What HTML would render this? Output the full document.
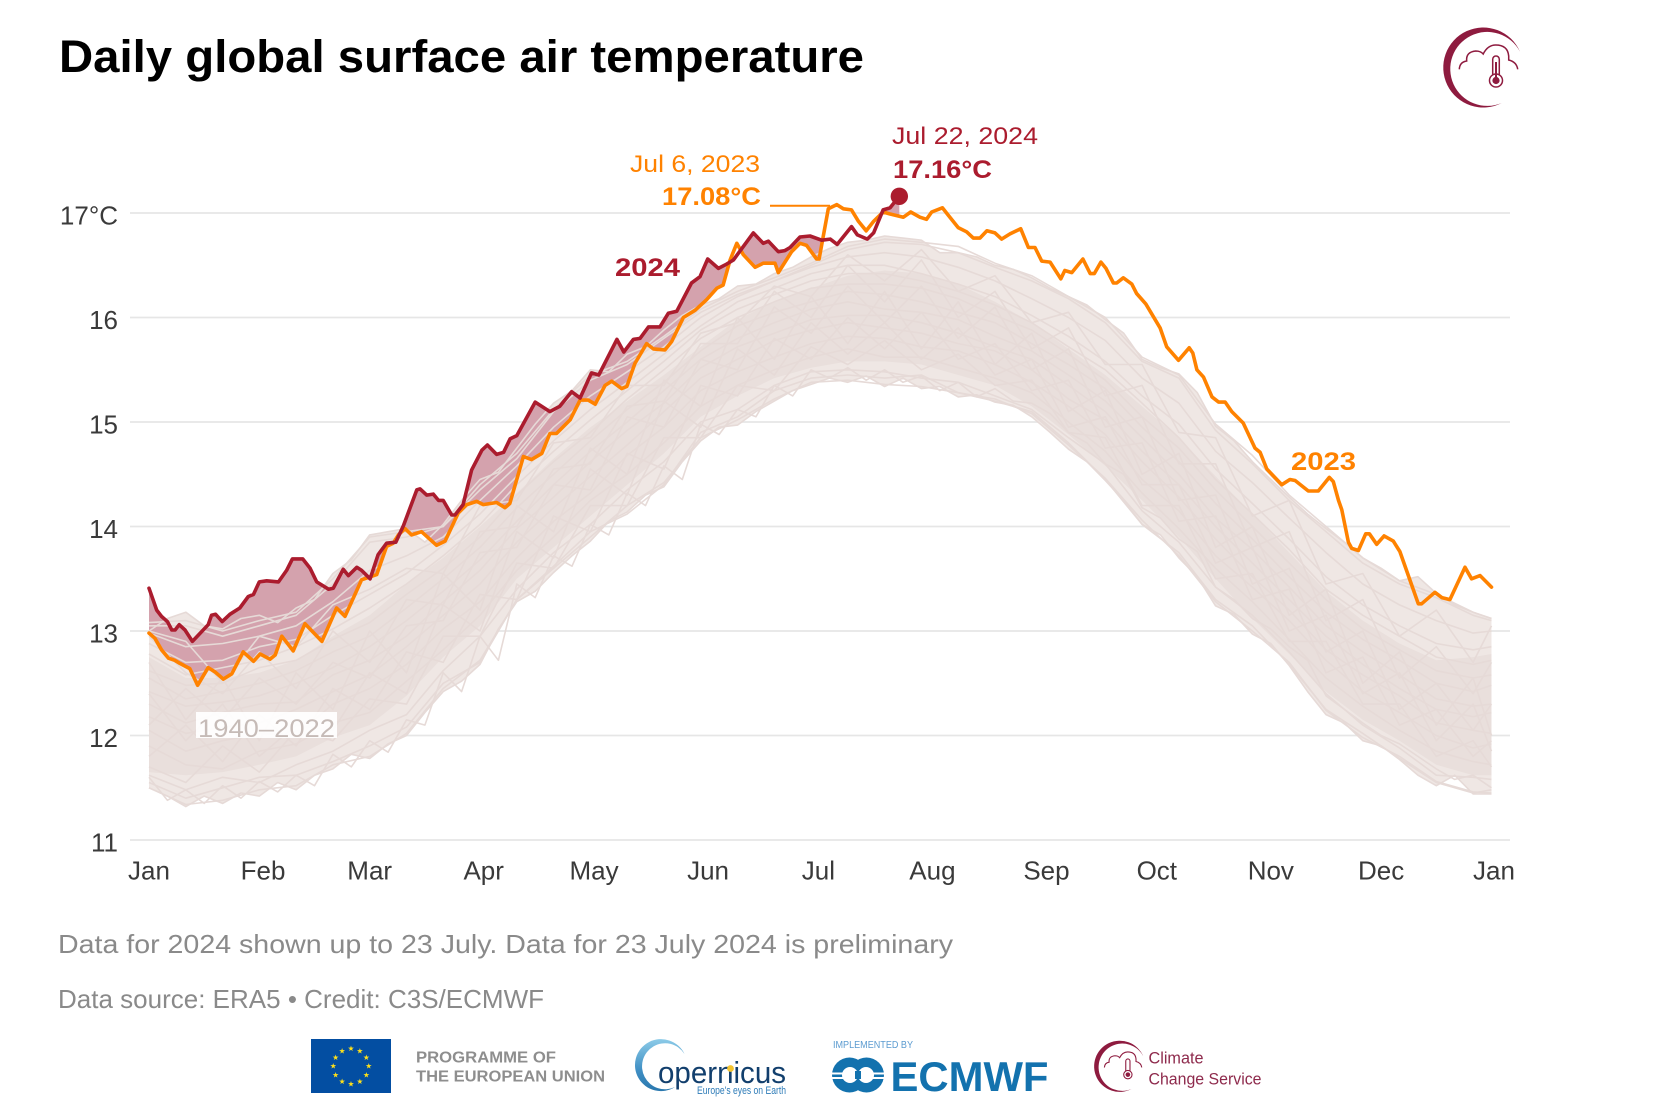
<!DOCTYPE html>
<html lang="en">
<head>
<meta charset="utf-8">
<title>Daily global surface air temperature</title>
<style>
html,body{margin:0;padding:0;background:#fff;}
svg{display:block;font-family:"Liberation Sans",sans-serif;}
</style>
</head>
<body>
<svg id="chart" xmlns="http://www.w3.org/2000/svg" width="1660" height="1104" viewBox="0 0 1660 1104">
<defs>
<linearGradient id="copGrad" x1="0" y1="0" x2="0" y2="1"><stop offset="0" stop-color="#8ccbe8"/><stop offset="0.6" stop-color="#3f8fc4"/><stop offset="1" stop-color="#2a78ae"/></linearGradient>
</defs>
<rect width="1660" height="1104" fill="#fff"/>
<text x="59" y="72" font-size="45" font-weight="700" fill="#000" textLength="805" lengthAdjust="spacingAndGlyphs">Daily global surface air temperature</text>

<g id="gridLayer"></g>
<g id="bandLayer"></g>
<g id="fillLayer"></g>
<g id="linesLayer"></g>
<g id="seriesLayer"></g>
<g id="axisLayer"></g>

<rect x="196" y="712" width="141" height="26" fill="#fff" opacity="0.92"/>
<text x="198" y="737" font-size="25" fill="#c6bbb7" textLength="137" lengthAdjust="spacingAndGlyphs">1940–2022</text>

<text x="615" y="276" font-size="25" font-weight="700" fill="#ab1c2e" textLength="65" lengthAdjust="spacingAndGlyphs">2024</text>
<text x="1291" y="470" font-size="25" font-weight="700" fill="#ff8200" textLength="65" lengthAdjust="spacingAndGlyphs">2023</text>

<text x="630" y="172" font-size="24" fill="#ff8200" textLength="130" lengthAdjust="spacingAndGlyphs">Jul 6, 2023</text>
<text x="662" y="205" font-size="25" font-weight="700" fill="#ff8200" textLength="99" lengthAdjust="spacingAndGlyphs">17.08°C</text>
<line x1="770" y1="205.7" x2="830" y2="205.7" stroke="#ff8200" stroke-width="2"/>
<text x="892" y="144" font-size="24" fill="#ab1c2e" textLength="146" lengthAdjust="spacingAndGlyphs">Jul 22, 2024</text>
<text x="893" y="178" font-size="25" font-weight="700" fill="#ab1c2e" textLength="99" lengthAdjust="spacingAndGlyphs">17.16°C</text>

<text x="58" y="953" font-size="26" fill="#8a8a8a" textLength="895" lengthAdjust="spacingAndGlyphs">Data for 2024 shown up to 23 July. Data for 23 July 2024 is preliminary</text>
<text x="58" y="1008" font-size="26" fill="#8a8a8a" textLength="486" lengthAdjust="spacingAndGlyphs">Data source: ERA5 • Credit: C3S/ECMWF</text>

<g transform="translate(1483.7 67)">
  <path d="M36.3 -15.3 A40 40 0 1 0 18 36 A37 37 0 1 1 36.3 -15.3Z" fill="#8e1b3f"/>
  <path d="M-24.4 2.3 Q-24 -5 -17 -6 Q-18 -15 -8 -16 Q-3 -16 -0.5 -13 Q4 -22 12 -22 Q24 -22 25 -11 L25 -7 Q33 -5 34 2.3" fill="none" stroke="#8e1b3f" stroke-width="1.5"/>
  <rect x="9" y="-11" width="6.6" height="24" rx="3.3" fill="#fff" stroke="#8e1b3f" stroke-width="1.5"/>
  <circle cx="12.3" cy="13.5" r="6.5" fill="#fff" stroke="#8e1b3f" stroke-width="1.5"/>
  <circle cx="12.3" cy="13.5" r="3.6" fill="#8e1b3f"/>
  <rect x="11.3" y="-5" width="2" height="17" fill="#8e1b3f"/>
</g>

<g>
  <g id="euFlag">
    <rect x="311" y="1039" width="80" height="54" fill="#034ea2"/>
  </g>
  <text x="416" y="1062.5" font-size="16" font-weight="700" fill="#8e8e8e" textLength="140" lengthAdjust="spacingAndGlyphs">PROGRAMME OF</text>
  <text x="416" y="1081.5" font-size="16" font-weight="700" fill="#8e8e8e" textLength="189" lengthAdjust="spacingAndGlyphs">THE EUROPEAN UNION</text>

  <path d="M684.5 1054 A26 26 0 1 0 675 1087 A23 23 0 1 1 684.5 1054Z" fill="url(#copGrad)"/>
  <text x="658" y="1083" font-size="31" fill="#123f6d" textLength="128" lengthAdjust="spacingAndGlyphs">opernicus</text>
  <circle cx="730.5" cy="1068.5" r="3.4" fill="#f4c430"/>
  <text x="697" y="1094" font-size="11" fill="#2e7cb8" textLength="89" lengthAdjust="spacingAndGlyphs">Europe's eyes on Earth</text>

  <text x="833" y="1048" font-size="10" fill="#5b9bd0" textLength="80" lengthAdjust="spacingAndGlyphs">IMPLEMENTED BY</text>
  <g>
    <circle cx="849.5" cy="1075" r="17.5" fill="#1372ae"/>
    <circle cx="866.5" cy="1075" r="17.5" fill="#1372ae"/>
    <circle cx="850" cy="1075" r="8" fill="#fff"/>
    <circle cx="866" cy="1075" r="8" fill="#fff"/>
    <rect x="831" y="1072.5" width="25" height="2" fill="#fff"/>
    <rect x="831" y="1077" width="25" height="2" fill="#fff"/>
    <rect x="860" y="1072.5" width="25" height="2" fill="#fff"/>
    <rect x="860" y="1077" width="25" height="2" fill="#fff"/>
    <rect x="855" y="1071" width="6" height="8" fill="#1372ae"/>
  </g>
  <text x="890.5" y="1091" font-size="42" font-weight="700" fill="#1372ae" textLength="158" lengthAdjust="spacingAndGlyphs">ECMWF</text>

  <g transform="translate(1120 1066) scale(0.64)">
    <path d="M36.3 -15.3 A40 40 0 1 0 18 36 A37 37 0 1 1 36.3 -15.3Z" fill="#8e1b3f"/>
    <path d="M-24.4 2.3 Q-24 -5 -17 -6 Q-18 -15 -8 -16 Q-3 -16 -0.5 -13 Q4 -22 12 -22 Q24 -22 25 -11 L25 -7 Q33 -5 34 2.3" fill="none" stroke="#8e1b3f" stroke-width="1.7"/>
    <rect x="9" y="-11" width="6.6" height="24" rx="3.3" fill="#fff" stroke="#8e1b3f" stroke-width="1.7"/>
    <circle cx="12.3" cy="13.5" r="6.5" fill="#fff" stroke="#8e1b3f" stroke-width="1.7"/>
    <circle cx="12.3" cy="13.5" r="3.6" fill="#8e1b3f"/>
  </g>
  <text x="1148.5" y="1063.5" font-size="17" fill="#8e2a4c" textLength="55" lengthAdjust="spacingAndGlyphs">Climate</text>
  <text x="1148.5" y="1084.5" font-size="17" fill="#8e2a4c" textLength="113" lengthAdjust="spacingAndGlyphs">Change Service</text>
</g>
</svg>

<script>
const yTickValues = [11, 12, 13, 14, 15, 16, 17];
const yTickLabels = ["11", "12", "13", "14", "15", "16", "17°C"];
const monthLabels = ["Jan", "Feb", "Mar", "Apr", "May", "Jun", "Jul", "Aug", "Sep", "Oct", "Nov", "Dec", "Jan"];
const monthStartDays = [0, 31, 60, 91, 121, 152, 182, 213, 244, 274, 305, 335, 365];

const days2023 = [0,1.6,3.4,5.3,7,8.4,11.1,13.2,16.1,17.9,20.2,22.5,25.6,28.4,30.2,32.9,34.3,36.1,39.2,42.4,47,51,53.3,57.8,61.9,64.6,66.4,67.8,69.6,71.4,74.1,78.2,80.5,84.1,86.4,89.1,90.9,94.5,96.8,98.1,101.8,104,106.8,109,110.8,114.5,117.2,119.4,121.3,124,125.8,128.5,129.9,132.1,135.3,137.1,140.3,142.1,145.3,148.5,151.6,154.4,156.1,158,159.8,161.6,164.8,167,170.2,171.1,174.7,177,178.8,181.5,182.2,184.7,187,188.8,191,192.9,195,197,199.6,201.5,205.1,207.1,209.6,211.4,212.8,215.7,217.3,220,222.3,224.1,225.9,227.8,230,231.8,234.1,237,239.1,240.9,242.7,245,247.9,249,250.9,253.9,255.9,257,258.8,260.2,262.2,263.1,264.9,267.2,268.5,271,274.9,276.7,279.9,282.8,283.8,284.9,286.7,289,290.8,292.6,294.4,297.5,300.7,302.1,303.9,308,310.2,311.6,315.2,317.9,320.9,322,323.4,324.3,326.1,327,328.8,330.8,331.8,333.8,335.8,338.3,340.1,345.1,346,349.6,351.5,353.7,357.8,359.6,361.9,365];
const temp2023 = [12.98,12.93,12.82,12.74,12.72,12.69,12.64,12.48,12.65,12.61,12.54,12.59,12.80,12.71,12.78,12.73,12.77,12.95,12.81,13.07,12.90,13.22,13.14,13.49,13.54,13.81,13.84,13.92,13.98,13.92,13.95,13.82,13.86,14.13,14.21,14.24,14.21,14.23,14.18,14.22,14.67,14.64,14.70,14.89,14.89,15.02,15.21,15.21,15.17,15.35,15.39,15.32,15.34,15.56,15.75,15.70,15.69,15.77,16.00,16.07,16.17,16.28,16.31,16.55,16.71,16.60,16.48,16.52,16.52,16.43,16.63,16.71,16.69,16.56,16.56,17.04,17.08,17.04,17.03,16.92,16.83,16.92,17.01,16.99,16.96,17.01,16.96,16.94,17.01,17.05,16.98,16.86,16.82,16.76,16.76,16.83,16.81,16.75,16.80,16.85,16.67,16.67,16.54,16.53,16.37,16.45,16.43,16.56,16.42,16.42,16.53,16.47,16.33,16.33,16.38,16.32,16.23,16.13,15.90,15.72,15.59,15.71,15.66,15.50,15.43,15.24,15.19,15.19,15.10,14.99,14.75,14.71,14.55,14.40,14.45,14.44,14.34,14.34,14.47,14.43,14.25,14.16,13.85,13.79,13.77,13.93,13.93,13.83,13.91,13.86,13.76,13.26,13.26,13.37,13.32,13.30,13.61,13.50,13.53,13.42];

const days2024 = [0,2.1,3.4,5,6.2,7.1,8.2,9.8,11.8,16.1,17,18.1,19.9,22,24.7,27,28.4,30,32,35.2,37.4,39,41.8,43.8,45.6,48.8,50.1,52.8,54.2,56.5,57.8,60.1,62.3,64.6,67.1,69.2,72.8,73.7,75.5,77.3,78.7,80,82.3,83.2,85.4,87.7,90.5,92,94.5,96.4,98.2,100,105,109,111.7,114.9,117.2,120.3,122.3,127.2,129.1,131.7,133.5,135.8,138.9,141.2,143.5,147.5,149.8,151.9,154.8,157,158.9,164.3,167,168.4,171.1,172.9,174.3,177,179.7,182.9,185.2,187.1,191,192.6,195.3,197,199.6,201.5,204];
const temp2024 = [13.41,13.20,13.14,13.09,13.01,13.01,13.06,13.01,12.90,13.06,13.15,13.16,13.09,13.16,13.22,13.33,13.35,13.47,13.48,13.47,13.58,13.69,13.69,13.60,13.47,13.40,13.41,13.59,13.53,13.61,13.58,13.50,13.73,13.84,13.85,14.01,14.35,14.36,14.30,14.31,14.25,14.25,14.11,14.11,14.21,14.54,14.73,14.78,14.69,14.71,14.84,14.87,15.19,15.10,15.15,15.29,15.23,15.47,15.45,15.79,15.67,15.79,15.80,15.91,15.91,16.04,16.06,16.33,16.39,16.56,16.47,16.51,16.55,16.81,16.71,16.73,16.63,16.64,16.67,16.77,16.78,16.74,16.75,16.70,16.87,16.79,16.75,16.81,17.03,17.05,17.16];

const historyDays = [0,10,20,30,40,50,60,70,80,90,100,110,120,130,140,150,160,170,180,190,200,210,220,230,240,250,260,270,280,290,300,310,320,330,340,350,360,365];
const edgeDays = [0,5,10,15,20,25,30,35,40,45,50,55,60,65,70,75,80,85,90,95,100,105,110,115,120,125,130,135,140,145,150,155,160,165,170,175,180,185,190,195,200,205,210,215,220,225,230,235,240,245,250,255,260,265,270,275,280,285,290,295,300,305,310,315,320,325,330,335,340,345,350,355,360,365];
const edgeLowA = [11.50,11.42,11.32,11.42,11.35,11.45,11.42,11.55,11.48,11.62,11.68,11.82,11.78,11.92,12.00,12.22,12.42,12.52,12.68,13.02,13.28,13.38,13.56,13.72,13.86,14.05,14.14,14.30,14.38,14.62,14.82,14.95,14.97,15.10,15.20,15.30,15.36,15.42,15.38,15.44,15.34,15.42,15.32,15.34,15.24,15.26,15.19,15.16,15.05,14.90,14.74,14.62,14.44,14.25,14.02,13.92,13.70,13.52,13.24,13.16,12.97,12.88,12.67,12.42,12.20,12.12,11.95,11.90,11.77,11.62,11.52,11.62,11.44,11.44];
const edgeLowB = [11.60,11.38,11.48,11.35,11.52,11.40,11.56,11.46,11.62,11.52,11.82,11.70,11.95,11.84,12.15,12.10,12.60,12.42,12.95,12.72,13.45,13.32,13.72,13.62,14.02,13.92,14.32,14.20,14.58,14.45,14.98,14.88,15.12,15.05,15.35,15.25,15.50,15.42,15.52,15.40,15.50,15.38,15.44,15.30,15.38,15.24,15.32,15.20,15.18,15.08,14.90,14.80,14.60,14.50,14.18,14.08,13.88,13.76,13.42,13.30,13.12,13.02,12.85,12.72,12.38,12.25,12.12,12.00,11.92,11.80,11.68,11.58,11.62,11.50];
const edgeHighA = [13.00,13.12,13.18,13.05,13.02,13.12,13.15,13.08,13.22,13.30,13.55,13.68,13.92,13.95,13.98,13.85,14.02,14.25,14.45,14.52,14.75,14.98,15.18,15.30,15.50,15.48,15.65,15.72,15.88,16.02,16.12,16.18,16.30,16.32,16.42,16.48,16.58,16.66,16.72,16.74,16.78,16.76,16.74,16.62,16.62,16.58,16.50,16.46,16.38,16.28,16.20,16.12,15.98,15.85,15.60,15.52,15.46,15.28,14.96,14.82,14.62,14.45,14.28,14.12,13.98,13.85,13.70,13.60,13.48,13.52,13.36,13.25,13.18,13.12];
const denseLow = [11.65,11.62,11.65,11.72,11.80,11.98,12.10,12.38,12.75,13.05,13.50,13.80,14.10,14.40,14.70,15.05,15.25,15.42,15.52,15.58,15.58,15.55,15.45,15.35,15.15,14.88,14.58,14.25,13.90,13.50,13.12,12.78,12.42,12.15,11.95,11.72,11.62,11.62];
const denseHigh = [12.75,12.55,12.55,12.60,12.72,12.95,13.15,13.45,13.70,14.00,14.32,14.65,14.95,15.20,15.45,15.72,15.98,16.15,16.28,16.40,16.45,16.42,16.32,16.15,15.95,15.70,15.45,15.15,14.85,14.48,14.12,13.75,13.38,13.10,12.88,12.72,12.75,12.78];

const history01 = [11.50,11.34,11.38,11.48,11.52,11.72,11.80,12.02,12.45,12.72,13.30,13.60,13.90,14.20,14.42,14.85,15.02,15.22,15.38,15.40,15.36,15.34,15.28,15.22,15.08,14.78,14.46,14.06,13.72,13.28,13.00,12.70,12.24,11.98,11.80,11.56,11.46,11.45];
const history02 = [11.62,11.48,11.60,11.55,11.72,11.85,12.05,12.20,12.62,12.95,13.40,13.75,14.02,14.35,14.62,15.00,15.12,15.35,15.48,15.50,15.48,15.42,15.38,15.25,15.12,14.85,14.60,14.15,13.85,13.42,13.15,12.80,12.40,12.10,11.88,11.62,11.60,11.58];
const history03 = [11.90,11.72,11.68,11.85,11.92,12.12,12.22,12.52,12.82,13.15,13.58,13.90,14.25,14.50,14.80,15.15,15.35,15.50,15.62,15.70,15.62,15.62,15.52,15.42,15.28,15.00,14.72,14.32,13.98,13.60,13.28,12.92,12.55,12.28,12.05,11.85,11.75,11.72];
const history04 = [12.05,11.85,11.95,12.02,12.00,12.30,12.45,12.68,13.02,13.28,13.70,14.05,14.32,14.68,14.95,15.30,15.48,15.62,15.75,15.82,15.80,15.72,15.68,15.55,15.38,15.15,14.88,14.45,14.15,13.72,13.42,13.10,12.72,12.42,12.22,12.00,11.88,11.92];
const history05 = [12.18,12.02,12.08,12.12,12.25,12.42,12.58,12.85,13.15,13.45,13.85,14.18,14.48,14.78,15.10,15.42,15.60,15.78,15.88,15.95,15.90,15.85,15.75,15.68,15.50,15.22,15.02,14.62,14.28,13.88,13.52,13.20,12.82,12.58,12.38,12.12,12.05,12.02];
const history06 = [12.30,12.12,12.22,12.30,12.32,12.58,12.72,12.95,13.28,13.58,13.98,14.28,14.62,14.92,15.18,15.52,15.72,15.85,15.98,16.02,16.02,15.95,15.85,15.72,15.60,15.35,15.10,14.72,14.40,14.00,13.65,13.30,12.95,12.68,12.45,12.25,12.18,12.22];
const history07 = [12.42,12.28,12.32,12.38,12.50,12.65,12.85,13.10,13.38,13.68,14.05,14.40,14.72,15.00,15.30,15.60,15.80,15.95,16.08,16.15,16.08,16.05,15.98,15.82,15.68,15.45,15.20,14.85,14.50,14.08,13.78,13.42,13.05,12.80,12.58,12.35,12.28,12.30];
const history08 = [12.55,12.35,12.42,12.50,12.62,12.80,12.95,13.22,13.50,13.80,14.18,14.50,14.82,15.12,15.38,15.68,15.92,16.05,16.15,16.25,16.22,16.15,16.05,15.95,15.75,15.55,15.32,14.95,14.62,14.22,13.88,13.52,13.18,12.92,12.72,12.50,12.42,12.48];
const history09 = [12.62,12.48,12.50,12.65,12.72,12.92,13.08,13.35,13.60,13.90,14.30,14.62,14.90,15.22,15.50,15.80,16.00,16.15,16.28,16.32,16.32,16.28,16.18,16.02,15.88,15.65,15.40,15.05,14.75,14.35,14.00,13.65,13.30,13.02,12.82,12.62,12.55,12.58];
const history10 = [12.78,12.58,12.65,12.72,12.85,13.02,13.22,13.45,13.72,14.02,14.40,14.72,15.02,15.30,15.58,15.88,16.08,16.22,16.35,16.42,16.42,16.35,16.25,16.12,15.95,15.72,15.50,15.18,14.85,14.45,14.12,13.78,13.40,13.15,12.95,12.75,12.68,12.72];
const history11 = [12.88,12.70,12.72,12.85,12.92,13.15,13.35,13.55,13.82,14.12,14.48,14.82,15.12,15.38,15.65,15.92,16.15,16.28,16.42,16.50,16.50,16.42,16.32,16.20,16.02,15.82,15.58,15.25,14.98,14.55,14.22,13.88,13.52,13.25,13.05,12.88,12.82,12.85];
const history12 = [12.98,12.85,12.88,12.95,13.05,13.28,13.58,13.72,13.90,14.25,14.58,14.95,15.25,15.48,15.72,16.00,16.20,16.35,16.48,16.58,16.62,16.58,16.48,16.35,16.18,16.00,15.78,15.42,15.18,14.72,14.42,14.08,13.75,13.45,13.25,13.10,12.98,13.00];
const history13 = [13.05,13.05,12.95,13.05,13.15,13.45,13.85,13.90,14.00,14.35,14.65,15.10,15.40,15.55,15.80,16.05,16.22,16.35,16.50,16.65,16.72,16.70,16.62,16.48,16.35,16.18,15.95,15.58,15.42,14.92,14.60,14.25,13.95,13.65,13.45,13.32,13.15,13.10];
const history14 = [12.10,12.45,12.15,12.55,12.30,12.70,12.55,13.05,13.10,13.75,13.80,14.40,14.35,15.05,14.95,15.60,15.50,16.10,15.85,16.30,15.95,16.30,15.80,16.10,15.50,15.70,14.95,15.05,14.25,14.30,13.45,13.60,12.80,13.00,12.25,12.50,12.05,12.30];
const history15 = [12.70,12.15,12.55,11.95,12.60,12.25,13.00,12.60,13.55,13.20,14.20,13.95,14.75,14.50,15.40,15.15,16.00,15.60,16.20,15.75,16.25,15.70,16.15,15.55,15.85,15.10,15.30,14.50,14.70,13.80,14.00,13.15,13.40,12.50,12.80,12.10,12.55,12.00];
const history16 = [11.80,12.10,11.75,12.20,11.90,12.45,12.25,12.80,12.70,13.35,13.30,14.10,13.95,14.70,14.55,15.35,15.25,15.80,15.60,16.00,15.70,16.05,15.60,15.75,15.30,15.40,14.75,14.80,14.05,14.10,13.30,13.40,12.60,12.75,12.10,12.25,11.80,11.95];
const history17 = [12.40,11.95,12.30,11.80,12.10,12.05,12.60,12.40,13.25,13.00,13.95,13.70,14.55,14.30,15.20,14.95,15.70,15.45,15.95,15.65,15.95,15.60,15.90,15.45,15.60,14.95,15.05,14.40,14.40,13.65,13.80,13.00,13.15,12.40,12.60,11.95,12.30,11.85];
const history18 = [12.95,12.60,12.40,12.80,12.45,13.00,12.70,13.30,13.25,13.95,14.00,14.55,14.60,15.15,15.20,15.75,15.75,16.25,16.00,16.50,16.15,16.55,16.00,16.25,15.70,15.90,15.25,15.35,14.60,14.60,13.80,13.95,13.10,13.30,12.55,12.85,12.40,12.70];
const history19 = [11.70,11.55,11.90,11.65,12.05,11.95,12.35,12.30,12.95,12.95,13.65,13.60,14.20,14.20,14.85,14.85,15.35,15.30,15.72,15.55,15.78,15.50,15.65,15.35,15.40,14.90,14.85,14.20,14.20,13.50,13.55,12.90,12.90,12.30,12.30,11.80,11.95,11.70];
const history20 = [13.00,12.90,12.50,12.95,12.85,13.25,13.40,13.60,13.55,14.20,14.25,14.80,14.85,15.35,15.35,15.85,15.95,16.30,16.20,16.60,16.35,16.65,16.25,16.40,15.95,16.05,15.55,15.55,14.90,14.85,14.10,14.25,13.45,13.55,12.95,13.20,12.70,13.05];
const history21 = [11.55,11.40,11.50,11.60,11.62,11.75,11.90,12.08,12.50,12.70,13.30,13.62,13.95,14.12,14.40,14.90,15.05,15.30,15.42,15.45,15.42,15.45,15.28,15.20,15.10,14.80,14.45,14.02,13.75,13.30,13.05,12.68,12.25,12.02,11.78,11.55,11.45,11.48];
const history22 = [13.08,13.10,13.00,13.10,13.18,13.50,13.90,13.95,14.00,14.40,14.70,15.12,15.45,15.58,15.82,16.08,16.25,16.38,16.52,16.68,16.75,16.72,16.68,16.52,16.40,16.20,16.00,15.62,15.45,14.98,14.68,14.30,14.00,13.70,13.48,13.35,13.18,13.12];
const historySeries = [history01,history02,history03,history04,history05,history06,history07,history08,history09,history10,history11,history12,history13,history14,history15,history16,history17,history18,history19,history20,history21,history22];
const edgeSeries = [edgeLowA,edgeLowB,edgeHighA];

const NS = "http://www.w3.org/2000/svg";
function xScale(day) { return 149 + day * (1342.5 / 365); }
function yScale(t) { return 840 - (t - 11) * 104.5; }
function node(tag, parent, attrs) {
  const el = document.createElementNS(NS, tag);
  for (const k in attrs) el.setAttribute(k, attrs[k]);
  parent.appendChild(el);
  return el;
}
function linePath(days, vals) {
  return vals.map(function (v, i) { return (i ? "L" : "M") + xScale(days[i]).toFixed(1) + " " + yScale(v).toFixed(1); }).join("");
}
function bandPath(days, lo, hi) {
  let d = "";
  hi.forEach(function (v, i) { d += (i ? "L" : "M") + xScale(days[i]).toFixed(1) + " " + yScale(v).toFixed(1); });
  for (let i = lo.length - 1; i >= 0; i--) d += "L" + xScale(days[i]).toFixed(1) + " " + yScale(lo[i]).toFixed(1);
  return d + "Z";
}
function valueAt(days, vals, day) {
  for (let i = 1; i < days.length; i++) {
    if (day <= days[i]) {
      const f = (day - days[i - 1]) / (days[i] - days[i - 1]);
      return vals[i - 1] + f * (vals[i] - vals[i - 1]);
    }
  }
  return vals[vals.length - 1];
}

const gridLayer = document.getElementById("gridLayer");
const axisLayer = document.getElementById("axisLayer");
const bandLayer = document.getElementById("bandLayer");
const fillLayer = document.getElementById("fillLayer");
const linesLayer = document.getElementById("linesLayer");
const seriesLayer = document.getElementById("seriesLayer");

yTickValues.forEach(function (t, i) {
  const g = node("line", gridLayer, { x1: 130, x2: 1510, y1: yScale(t), y2: yScale(t), stroke: "#e6e6e6", "stroke-width": 1.8 });
  
  
  const lab = node("text", axisLayer, { x: 118, y: yScale(t) + 11.5, "text-anchor": "end", "font-size": 26, fill: "#3a3a3a" });
  lab.textContent = yTickLabels[i];
  
  
});

monthLabels.forEach(function (m, i) {
  const lab = node("text", axisLayer, { x: xScale(monthStartDays[i]) + (i === 12 ? 2.5 : 0), y: 879.5, "text-anchor": "middle", "font-size": 26, fill: "#3a3a3a" });
  lab.textContent = m;
  
  
});

const outerBand = node("path", bandLayer, { d: bandPath(edgeDays, edgeLowA, edgeHighA), fill: "#efe7e4" });


const innerBand = node("path", bandLayer, { d: bandPath(historyDays, denseLow, denseHigh), fill: "#e9dfdc" });



let run = null;
function flushRun() {
  if (run && run.length > 1) {
    let d = "";
    run.forEach(function (p, i) { d += (i ? "L" : "M") + xScale(p[0]).toFixed(1) + " " + yScale(p[1]).toFixed(1); });
    for (let i = run.length - 1; i >= 0; i--) d += "L" + xScale(run[i][0]).toFixed(1) + " " + yScale(run[i][2]).toFixed(1);
    const area = node("path", fillLayer, { d: d + "Z", fill: "#d4a2ad" });
    
    
  }
  run = null;
}
const lastDay2024 = days2024[days2024.length - 1];
for (let day = 0; day <= lastDay2024; day += 0.5) {
  const a = valueAt(days2024, temp2024, day);
  const b = valueAt(days2023, temp2023, day);
  if (a > b) { if (!run) run = []; run.push([day, a, b]); } else { flushRun(); }
}
flushRun();

historySeries.forEach(function (vals) {
  const p = node("path", linesLayer, { d: linePath(historyDays, vals), fill: "none", stroke: "#e6dad7", "stroke-width": 1.6, "stroke-linejoin": "round" });
  
  
});
edgeSeries.forEach(function (vals) {
  const p = node("path", linesLayer, { d: linePath(edgeDays, vals), fill: "none", stroke: "#e6dad7", "stroke-width": 1.6, "stroke-linejoin": "round" });
  
  
});

const line2023 = node("path", seriesLayer, { d: linePath(days2023, temp2023), fill: "none", stroke: "#ff8200", "stroke-width": 3.6, "stroke-linejoin": "round", "stroke-linecap": "round" });


const line2024 = node("path", seriesLayer, { d: linePath(days2024, temp2024), fill: "none", stroke: "#ab1c2e", "stroke-width": 3.6, "stroke-linejoin": "round", "stroke-linecap": "round" });


const dot = node("circle", seriesLayer, { cx: xScale(lastDay2024), cy: yScale(temp2024[temp2024.length - 1]), r: 8.7, fill: "#ab1c2e" });



const euFlag = document.getElementById("euFlag");
for (let i = 0; i < 12; i++) {
  const a = i * Math.PI / 6;
  const s = node("text", euFlag, { x: 351 + 17.7 * Math.sin(a), y: 1066 - 17.7 * Math.cos(a) + 2.6, "text-anchor": "middle", "font-size": 7.5, fill: "#ffe11a", style: 'font-family:"DejaVu Sans",sans-serif' });
  s.textContent = "★";
  
  
}
</script>
</body>
</html>
